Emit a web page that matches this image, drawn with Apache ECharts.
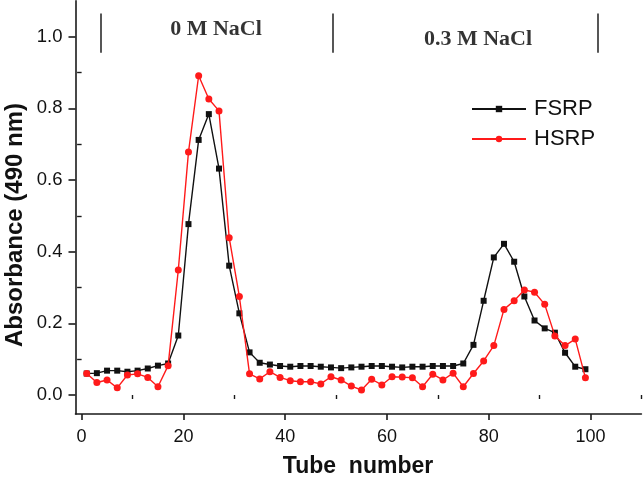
<!DOCTYPE html>
<html>
<head>
<meta charset="utf-8">
<script src="https://cdn.jsdelivr.net/npm/echarts@6/dist/echarts.min.js"></script>
<style>
html,body{margin:0;padding:0;background:#fff;}
#chart{width:644px;height:482px;}
</style>
</head>
<body>
<div id="chart"></div>
<script>
// ---- data ----
var tubes = [1,3,5,7,9,11,13,15,17,19,21,23,25,27,29,31,33,35,37,39,41,43,45,47,49,51,53,55,57,59,61,63,65,67,69,71,73,75,77,79,81,83,85,87,89,91,93,95,97,99];
var fsrp = [0.060,0.061,0.068,0.068,0.065,0.068,0.074,0.082,0.088,0.166,0.477,0.712,0.784,0.632,0.361,0.228,0.119,0.090,0.085,0.081,0.079,0.081,0.081,0.079,0.077,0.075,0.077,0.079,0.081,0.081,0.079,0.077,0.079,0.079,0.081,0.081,0.081,0.088,0.140,0.263,0.384,0.422,0.372,0.275,0.208,0.186,0.174,0.118,0.079,0.072];
var hsrp = [0.060,0.035,0.042,0.020,0.056,0.059,0.049,0.023,0.082,0.349,0.678,0.891,0.826,0.793,0.439,0.275,0.059,0.045,0.065,0.049,0.040,0.037,0.037,0.031,0.051,0.042,0.025,0.014,0.044,0.028,0.051,0.050,0.048,0.023,0.058,0.042,0.061,0.023,0.060,0.095,0.138,0.239,0.263,0.293,0.287,0.253,0.165,0.138,0.156,0.048];
var seriesNames = ['FSRP','HSRP'];
var xMajorTicks = [0,20,40,60,80,100];
var xMinorTicks = [10,30,50,70,90,110];
var yMajorTicks = [0,0.2,0.4,0.6,0.8,1.0];
var yMinorTicks = [0.1,0.3,0.5,0.7,0.9];
var regionLabels = ['0 M NaCl','0.3 M NaCl'];
var regionLabelX = [26.4, 77.9];
var regionLabelY = [1.022, 0.994];
var boundaryX = [3.7, 49.3, 101.5];
var boundaryY = [0.955, 1.065];
var xTitle = 'Tube  number';
var yTitle = 'Absorbance (490 nm)';

function pairs(xs, ys){ return xs.map(function(x,i){ return [x, ys[i]]; }); }

var chart = echarts.init(document.getElementById('chart'));
var axisColor = '#1a1a1a';
var sans = '"Liberation Sans", Arial, sans-serif';
var serif = '"Liberation Serif", "Times New Roman", serif';

var option = {
  backgroundColor: '#ffffff',
  animation: false,
  grid: { left: 75.5, right: 2.6, top: 0.9, bottom: 68, containLabel: false },
  legend: {
    left: 466, top: 93, orient: 'vertical',
    itemWidth: 54, itemHeight: 8, itemGap: 8,
    textStyle: { fontFamily: sans, fontSize: 22, color: '#111', padding: [0,0,0,3] },
    data: seriesNames
  },
  xAxis: [{
    type: 'value', min: -1.2, max: 110, position: 'bottom',
    axisLine: { show: true, onZero: false, lineStyle: { color: axisColor, width: 1.6 } },
    axisTick: { show: true, customValues: xMajorTicks, length: 6, lineStyle: { color: axisColor, width: 1.6 } },
    axisLabel: { show: true, customValues: xMajorTicks, fontFamily: sans, fontSize: 18, color: '#111', margin: 14 },
    splitLine: { show: false }
  },{
    type: 'value', min: -1.2, max: 110, position: 'bottom',
    axisLine: { show: false },
    axisTick: { show: true, customValues: xMinorTicks, length: 4, lineStyle: { color: axisColor, width: 1.4 } },
    axisLabel: { show: false },
    splitLine: { show: false }
  }],
  yAxis: [{
    type: 'value', min: -0.053, max: 1.1, position: 'left',
    axisLine: { show: true, onZero: false, lineStyle: { color: axisColor, width: 1.6 } },
    axisTick: { show: true, customValues: yMajorTicks, length: 7, lineStyle: { color: axisColor, width: 1.6 } },
    axisLabel: { show: true, customValues: yMajorTicks, fontFamily: sans, fontSize: 18.5, color: '#111', margin: 13,
      formatter: function(v){ return v.toFixed(1); } },
    splitLine: { show: false }
  },{
    type: 'value', min: -0.053, max: 1.1, position: 'left',
    axisLine: { show: false },
    axisTick: { show: true, customValues: yMinorTicks, length: 4.5, lineStyle: { color: axisColor, width: 1.4 } },
    axisLabel: { show: false },
    splitLine: { show: false }
  }],
  graphic: [
    { type: 'text', x: 15, y: 225, rotation: Math.PI/2,
      style: { text: yTitle, x: 0, y: 0, align: 'center', verticalAlign: 'middle', font: 'bold 24px ' + sans, fill: '#111' } },
    { type: 'text', x: 358, y: 467,
      style: { text: xTitle, align: 'center', verticalAlign: 'middle', font: 'bold 23px ' + sans, fill: '#111' } }
  ],
  series: [
    {
      name: seriesNames[0], type: 'line', xAxisIndex: 0, yAxisIndex: 0,
      data: pairs(tubes, fsrp),
      symbol: 'rect', symbolSize: 6,
      lineStyle: { color: '#111', width: 1.4 },
      itemStyle: { color: '#111' },
      z: 3
    },
    {
      name: seriesNames[1], type: 'line', xAxisIndex: 0, yAxisIndex: 0,
      data: pairs(tubes, hsrp),
      symbol: 'circle', symbolSize: 7,
      lineStyle: { color: '#ff1a1a', width: 1.4 },
      itemStyle: { color: '#ff1a1a' },
      z: 4
    },
    {
      name: 'annotations', type: 'scatter', xAxisIndex: 0, yAxisIndex: 0,
      data: regionLabels.map(function(t,i){ return { value: [regionLabelX[i], regionLabelY[i]], name: t }; }),
      symbolSize: 0, silent: true,
      label: { show: true, position: 'inside', formatter: '{b}', fontFamily: serif, fontWeight: 'bold', fontSize: 22, color: '#000' },
      markLine: {
        silent: true, symbol: ['none','none'],
        label: { show: false },
        lineStyle: { color: '#444', width: 1.8, type: 'solid' },
        data: boundaryX.map(function(x){ return [{ coord: [x, boundaryY[0]] }, { coord: [x, boundaryY[1]] }]; })
      }
    }
  ]
};
chart.setOption(option);
</script>
</body>
</html>
